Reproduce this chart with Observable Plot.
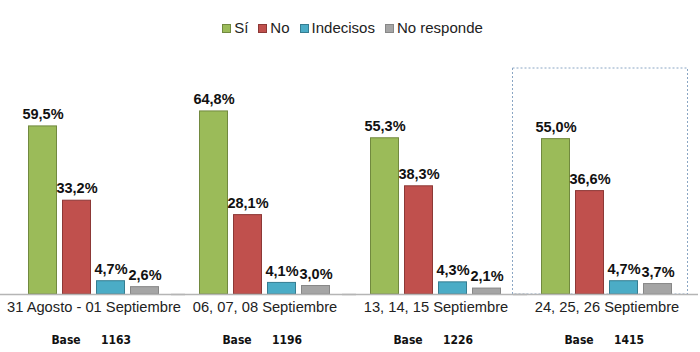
<!DOCTYPE html>
<html><head><meta charset="utf-8">
<script src="https://cdn.jsdelivr.net/npm/d3@7"></script>
<script src="https://cdn.jsdelivr.net/npm/@observablehq/plot@0.6"></script>
<style>
body{margin:0;background:#fff;font-family:"Liberation Sans",Arial,sans-serif;}
#legend{height:48px;display:flex;justify-content:center;align-items:flex-start;padding-left:5px;box-sizing:border-box;}
.item{display:flex;align-items:center;margin:0 5px;margin-top:19px;font-size:15px;color:#222;line-height:18px;}
.sw{width:9px;height:9px;margin-right:3px;box-sizing:border-box;border:1px solid;}
</style></head>
<body>
<div id="legend"></div>
<div id="chart"></div>
<script>
const groups = ["31 Agosto - 01 Septiembre","06, 07, 08 Septiembre","13, 14, 15 Septiembre","24, 25, 26 Septiembre"];
const series = ["Sí","No","Indecisos","No responde"];
const si = [59.5, 64.8, 55.3, 55.0];
const no = [33.2, 28.1, 38.3, 36.6];
const indecisos = [4.7, 4.1, 4.3, 4.7];
const noResponde = [2.6, 3.0, 2.1, 3.7];
const bases = [1163, 1196, 1226, 1415];
const colors = ["#9bbb59","#c0504d","#4bacc6","#a5a5a5"];
const strokes = ["#71893f","#8c3836","#357d91","#878787"];

const values = [si, no, indecisos, noResponde];
const data = [];
groups.forEach((g, i) => series.forEach((s, j) => data.push({group: g, serie: s, value: values[j][i]})));
const baseData = groups.map((g, i) => ({group: g, base: bases[i]}));
const highlight = [groups[groups.length - 1]];

const legend = document.getElementById("legend");
series.forEach((s, j) => {
  const it = document.createElement("div"); it.className = "item";
  const sw = document.createElement("span"); sw.className = "sw";
  sw.style.background = colors[j]; sw.style.borderColor = strokes[j];
  it.appendChild(sw); it.appendChild(document.createTextNode(s));
  legend.appendChild(it);
});

const fmt = v => v.toFixed(1).replace(".", ",") + "%";
const narrow = "'Liberation Sans Narrow','DejaVu Sans Condensed',sans-serif";

const chart = Plot.plot({
  width: 700, height: 304,
  marginLeft: 7.5, marginRight: 8.5, marginTop: 20, marginBottom: 58,
  style: {fontFamily: "'Liberation Sans', Arial, sans-serif", background: "#fff"},
  fx: {domain: groups, padding: 0, axis: null, label: null},
  x: {domain: series, paddingInner: 0.18, paddingOuter: 0.6, axis: null},
  y: {domain: [0, 80], axis: null},
  color: {domain: series, range: colors},
  marks: [
    Plot.rect(highlight, {fx: d => d, y1: 0, y2: 80, fill: "none", stroke: "#8aa6c4", strokeWidth: 1, strokeDasharray: "2,2", insetLeft: -8.5, insetRight: 4.5}),
    Plot.barY(data, {fx: "group", x: "serie", y: "value", fill: "serie", stroke: d => strokes[series.indexOf(d.serie)]}),
    Plot.ruleY([0], {stroke: "#b5b5b5", strokeWidth: 1.5, insetLeft: -8, insetRight: -6}),
    Plot.text(data, {fx: "group", x: "serie", y: "value", text: d => fmt(d.value), dy: -12, fontSize: 14.5, fontWeight: "bold", fill: "#111"}),
    Plot.text(groups, {fx: d => d, text: d => d, frameAnchor: "bottom", dy: 17, fontSize: 14.7, fill: "#222"}),
    Plot.text(baseData, {fx: "group", text: d => "Base", frameAnchor: "bottom", dx: -28, dy: 49, fontSize: 12, fontWeight: "bold", fill: "#111", fontFamily: narrow}),
    Plot.text(baseData, {fx: "group", text: d => String(d.base), frameAnchor: "bottom", dx: 22, dy: 49, fontSize: 12, fontWeight: "bold", fill: "#111", fontFamily: narrow})
  ]
});
document.getElementById("chart").appendChild(chart);
</script>
</body></html>
